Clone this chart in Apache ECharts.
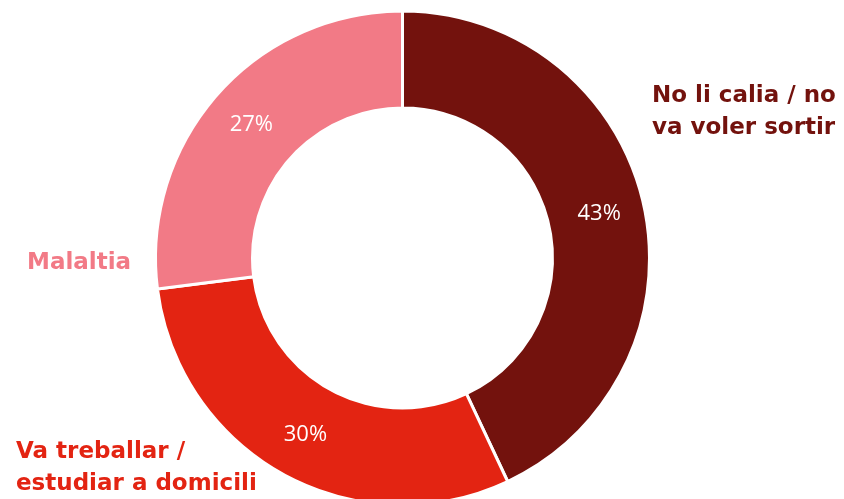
<!DOCTYPE html>
<html><head><meta charset="utf-8">
<script src="https://cdn.jsdelivr.net/npm/echarts@6/dist/echarts.min.js"></script>
<style>html,body{margin:0;padding:0;background:#fff}#c{width:844px;height:499px}</style>
</head><body><div id="c"></div>
<script>
const categories = ['No li calia / no va voler sortir', 'Va treballar / estudiar a domicili', 'Malaltia'];
const values = [43, 30, 27];
const colors = ['#73120D', '#E32412', '#F27A86'];
const labelLines = [['No li calia / no', 'va voler sortir'], ['Va treballar /', 'estudiar a domicili'], ['Malaltia']];
const labelPos = [[652, 96], [16, 452], [27, 263]];

const chart = echarts.init(document.getElementById('c'));
const fontFam = '"DejaVu Sans", sans-serif';
chart.setOption({
  animation: false,
  series: [{
    type: 'pie',
    center: [402.5, 258],
    radius: [150, 247],
    startAngle: 90,
    clockwise: true,
    data: categories.map((c, i) => ({ name: c, value: values[i], itemStyle: { color: colors[i] } })),
    itemStyle: { borderColor: '#fff', borderWidth: 3 },
    label: { position: 'inside', formatter: '{c}%', color: '#fff', fontSize: 22, fontFamily: '"Open Sans", sans-serif' },
    labelLine: { show: false }
  }],
  graphic: labelLines.map((lines, i) => ({
    type: 'text',
    left: labelPos[i][0],
    top: labelPos[i][1] - 16,
    style: { text: lines.join('\n'), fill: colors[i], font: 'bold 23px ' + fontFam, lineHeight: 32 }
  }))
});
</script></body></html>
